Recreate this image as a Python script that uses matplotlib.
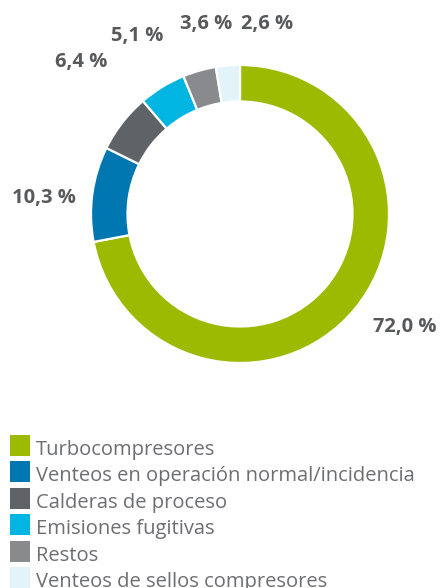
import matplotlib
matplotlib.use("Agg")
import matplotlib.pyplot as plt
from matplotlib.patches import Rectangle

categories = ["Turbocompresores", "Venteos en operación normal/incidencia",
              "Calderas de proceso", "Emisiones fugitivas", "Restos",
              "Venteos de sellos compresores"]
values = [72.0, 10.3, 6.4, 5.1, 3.6, 2.6]
labels = ["72,0 %", "10,3 %", "6,4 %", "5,1 %", "3,6 %", "2,6 %"]
colors = ["#9cba00", "#0077b0", "#5f6266", "#00b5e2", "#898a8d", "#e2f4fa"]

W, H = 442, 588
fig = plt.figure(figsize=(W / 100, H / 100), dpi=100)

cx, cy, R = 240, 214, 149
ax = fig.add_axes([(cx - R) / W, (H - cy - R) / H, 2 * R / W, 2 * R / H])
ax.pie(values, colors=colors, startangle=90, counterclock=False, radius=1,
       wedgeprops=dict(width=0.245, edgecolor="white", linewidth=1.6))
ax.set_xlim(-1, 1)
ax.set_ylim(-1, 1)
ax.set_aspect("equal")
ax.axis("off")

# label positions (pixel centres in the reference)
label_pos = [(405, 327), (44, 198), (81, 62), (137, 36), (206, 24), (267, 24)]
for txt, (px, py) in zip(labels, label_pos):
    fig.text(px / W, 1 - py / H, txt, ha="center", va="center",
             fontsize=14.5, fontweight="bold", color="#58595b",
             family="Open Sans")

# legend
top = 435
step = 26.4
for i, (cat, col) in enumerate(zip(categories, colors)):
    y0 = top + i * step
    fig.add_artist(Rectangle((10 / W, 1 - (y0 + 21) / H), 20 / W, 21 / H,
                             transform=fig.transFigure, facecolor=col,
                             edgecolor="none"))
    fig.text(36 / W, 1 - (y0 + 20) / H, cat, ha="left", va="baseline",
             fontsize=14.5, color="#6d6e71", family="Open Sans")

fig.savefig("out.png", dpi=100, facecolor="white")
